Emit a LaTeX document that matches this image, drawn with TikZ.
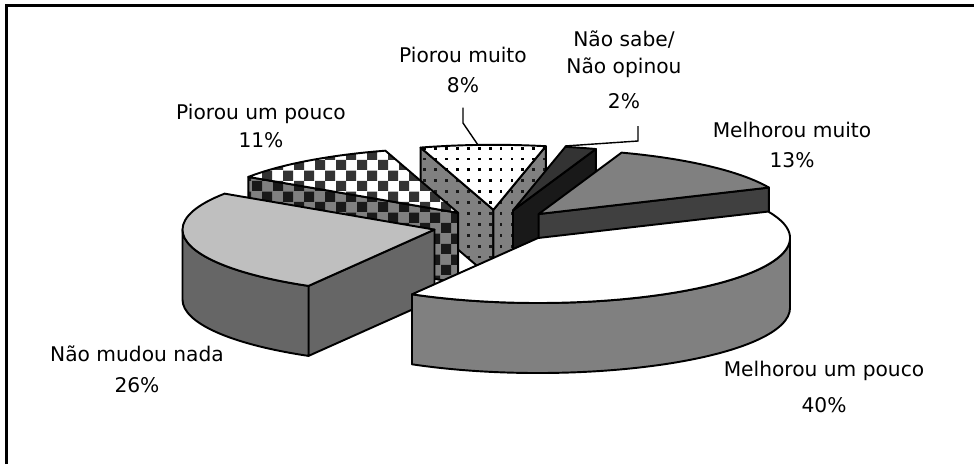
\documentclass[tikz,border=0pt]{standalone}
\usepackage{fontspec}
\setmainfont{DejaVu Sans}
\usetikzlibrary{calc,patterns}
\definecolor{LightClr}{gray}{0.75}
\definecolor{MidClr}{gray}{0.5}
\definecolor{SideClr}{gray}{0.4}
\definecolor{DarkClr}{gray}{0.25}
\definecolor{DeepClr}{gray}{0.2}
\definecolor{BlackClr}{gray}{0.1}
\pgfdeclarepatternformonly{Checks}{\pgfpointorigin}{\pgfqpoint{12pt}{12pt}}{\pgfqpoint{12pt}{12pt}}{%
  \pgfpathrectangle{\pgfpointorigin}{\pgfqpoint{6pt}{6pt}}%
  \pgfpathrectangle{\pgfqpoint{6pt}{6pt}}{\pgfqpoint{6pt}{6pt}}%
  \pgfusepath{fill}}
\pgfdeclarepatternformonly{Dots}{\pgfqpoint{-1pt}{-1pt}}{\pgfqpoint{1pt}{1pt}}{\pgfqpoint{6.2pt}{6.2pt}}{%
  \pgfpathrectangle{\pgfqpoint{-0.8pt}{-0.8pt}}{\pgfqpoint{1.6pt}{1.6pt}}%
  \pgfusepath{fill}}

\begin{document}
\begin{tikzpicture}[x=0.02cm,y=-0.02cm,
  slice/.style={draw=black,line width=1.1pt,line join=round},
  lead/.style={draw=black,line width=0.8pt},
  lbl/.style={font=\fontsize{11.5}{17.5}\selectfont,align=center,inner sep=0pt}]
\useasboundingbox (0,0) rectangle (974,464);
\draw[line width=1.2pt] (6.5,464) -- (6.5,5.5) -- (974,5.5);

% apexes of the exploded slices
\coordinate (PM) at (493.4,209.8);
\coordinate (NS) at (513,210.4);
\coordinate (PU) at (458.2,212.9);
\coordinate (MM) at (538.7,214);
\coordinate (NM) at (434.5,229.6);
\coordinate (MP) at (538,238);

% Piorou muito
\path[slice,preaction={fill=MidClr},pattern=Dots,pattern color=BlackClr] (PM) -- ++(253.2:252 and 65) -- ++(0,70) -- ($(PM)+(0,70)$) -- cycle;
\path[slice,preaction={fill=MidClr},pattern=Dots,pattern color=BlackClr] (PM) -- ++(282:252 and 65) -- ++(0,70) -- ($(PM)+(0,70)$) -- cycle;
\path[slice,preaction={fill=white},pattern=Dots,pattern color=black] (PM) -- ++(253.2:252 and 65) arc[start angle=253.2,end angle=282,x radius=252,y radius=65] -- cycle;

% Nao sabe
\path[slice,fill=BlackClr] (NS) -- ++(289.2:252 and 65) -- ++(0,70) -- ($(NS)+(0,70)$) -- cycle;
\path[slice,fill=DeepClr] (NS) -- ++(282:252 and 65) arc[start angle=282,end angle=289.2,x radius=252,y radius=65] -- cycle;

% Piorou um pouco
\path[slice,preaction={fill=MidClr},pattern=Checks,pattern color=BlackClr] (PU) -- ++(213.6:252 and 65) -- ++(0,70) -- ($(PU)+(0,70)$) -- cycle;
\path[slice,preaction={fill=white},pattern=Checks,pattern color=DeepClr] (PU) -- ++(213.6:252 and 65) arc[start angle=213.6,end angle=253.2,x radius=252,y radius=65] -- cycle;

% Melhorou muito
\path[slice,fill=DarkClr] (MM) -- ++(336:252 and 65) -- ++(0,70) -- ($(MM)+(0,70)$) -- cycle;
\path[slice,fill=MidClr] (MM) -- ++(289.2:252 and 65) arc[start angle=289.2,end angle=336,x radius=252,y radius=65] -- cycle;

% Nao mudou nada
\path[slice,fill=SideClr] (NM) -- ++(120:252 and 65) -- ++(0,70) -- ($(NM)+(0,70)$) -- cycle;
\path[slice,fill=SideClr] ($(NM)+(120:252 and 65)$) arc[start angle=120,end angle=180,x radius=252,y radius=65] -- ++(0,70) arc[start angle=180,end angle=120,x radius=252,y radius=65] -- cycle;
\path[slice,fill=LightClr] (NM) -- ++(120:252 and 65) arc[start angle=120,end angle=213.6,x radius=252,y radius=65] -- cycle;

% Melhorou um pouco
\path[slice,fill=MidClr] ($(MP)+(0:252 and 65)$) arc[start angle=0,end angle=120,x radius=252,y radius=65] -- ++(0,70) arc[start angle=120,end angle=0,x radius=252,y radius=65] -- cycle;
\path[slice,fill=white] (MP) -- ++(336:252 and 65) arc[start angle=336,end angle=480,x radius=252,y radius=65] -- cycle;

% labels
\node[lbl] (lblPM) at (463,70) {Piorou muito\\8\%};
\node[lbl] (lblNS) at (624,70) {Não sabe/\\[-2.5pt]Não opinou\\[2.5pt]2\%};
\node[lbl] (lblMM) at (792,145) {Melhorou muito\\13\%};
\node[lbl] (lblPU) at (261,126) {Piorou um pouco\\[-2pt]11\%};
\node[lbl] (lblNM) at (137,369) {Não mudou nada\\26\%};
\node[lbl] (lblMP) at (824,387) {Melhorou um pouco\\[3pt]40\%};

\coordinate (pmKnee) at (463,123);
\coordinate (pmEnd) at (478,145);
\draw[lead] (lblPM.south) ++(0,14) -- (pmKnee) -- (pmEnd);
\coordinate (nsKnee) at (638,141);
\coordinate (nsEnd) at (565,146);
\draw[lead] (lblNS.south) ++(14,17) -- (nsKnee) -- (nsEnd);
\end{tikzpicture}
\end{document}
